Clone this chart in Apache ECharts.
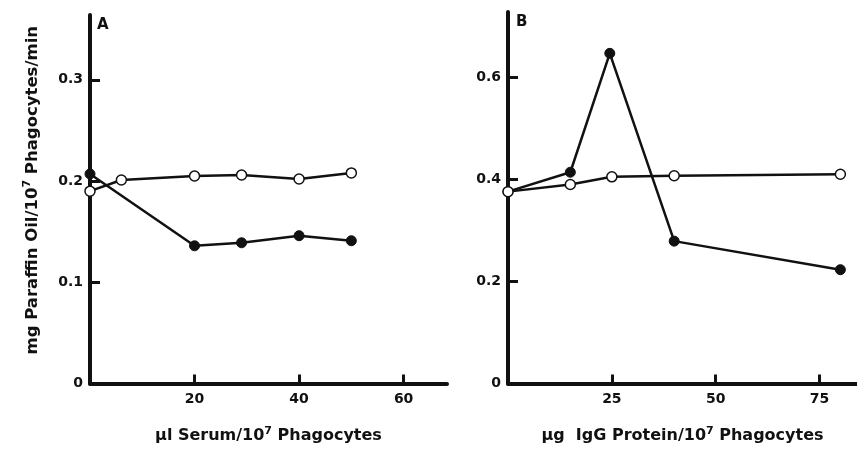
<!DOCTYPE html>
<html>
<head>
<meta charset="utf-8">
<script src="https://cdn.jsdelivr.net/npm/echarts@6/dist/echarts.min.js"></script>
<style>
  html, body { margin: 0; padding: 0; background: #fff; }
  #chart { width: 857px; height: 449px; }
</style>
</head>
<body>
<div id="chart"></div>
<script>
// Panel A: serum dose
const serumOpenX = [0, 6, 20, 29, 40, 50];
const serumOpenY = [0.190, 0.201, 0.205, 0.206, 0.202, 0.208];
const serumFilledX = [0, 20, 29, 40, 50];
const serumFilledY = [0.207, 0.136, 0.139, 0.146, 0.141];
const serumTicks = [20, 40, 60];
const serumRateTicks = [0, 0.1, 0.2, 0.3];

// Panel B: IgG dose
const iggOpenX = [0, 15, 25, 40, 80];
const iggOpenY = [0.376, 0.390, 0.405, 0.407, 0.410];
const iggFilledX = [0, 15, 24.5, 40, 80];
const iggFilledY = [0.376, 0.414, 0.647, 0.279, 0.223];
const iggTicks = [25, 50, 75];
const iggRateTicks = [0, 0.2, 0.4, 0.6];

const pairs = (xs, ys) => xs.map((x, i) => [x, ys[i]]);

const FONT = '"DejaVu Sans", "Liberation Sans", sans-serif';
const INK = '#111';

const richOf = (size) => ({
  t: { fontFamily: FONT, fontWeight: 'bold', fontSize: size, color: INK },
  sup: { fontFamily: FONT, fontWeight: 'bold', fontSize: 11, color: INK, padding: [0, 0, 10, 0] },
});

const xAxisOf = (gridIndex, max, ticks, name) => ({
  type: 'value',
  gridIndex,
  min: 0,
  max,
  name,
  nameLocation: 'middle',
  nameGap: 42,
  nameTextStyle: { rich: richOf(16) },
  axisLine: { lineStyle: { color: INK, width: 4 } },
  axisTick: { inside: true, length: 9, customValues: ticks, lineStyle: { color: INK, width: 3 } },
  axisLabel: {
    customValues: ticks,
    margin: 9,
    color: INK,
    fontFamily: FONT,
    fontWeight: 'bold',
    fontSize: 14,
  },
  splitLine: { show: false },
});

const yAxisOf = (gridIndex, max, ticks, name) => ({
  type: 'value',
  gridIndex,
  min: 0,
  max,
  name,
  nameLocation: 'middle',
  nameRotate: 90,
  nameGap: 47,
  nameTextStyle: { rich: richOf(16.5), padding: [0, 0, 0, 18] },
  axisLine: { lineStyle: { color: INK, width: 4 } },
  axisTick: { inside: true, length: 10, customValues: ticks.filter((v) => v > 0), lineStyle: { color: INK, width: 3 } },
  axisLabel: {
    customValues: ticks,
    margin: 7,
    color: INK,
    fontFamily: FONT,
    fontWeight: 'bold',
    fontSize: 14,
    formatter: (v) => (v === 0 ? '0' : v.toFixed(1)),
  },
  splitLine: { show: false },
});

const lineOf = (idx, data, filled) => ({
  type: 'line',
  xAxisIndex: idx,
  yAxisIndex: idx,
  data,
  clip: false,
  symbol: 'circle',
  symbolSize: 10,
  lineStyle: { color: INK, width: 2.5 },
  itemStyle: filled
    ? { color: INK, borderColor: INK, borderWidth: 1 }
    : { color: '#fff', borderColor: INK, borderWidth: 1.5 },
  z: filled ? 3 : 4,
});

const chart = echarts.init(document.getElementById('chart'));
chart.setOption({
  backgroundColor: '#fff',
  animation: false,
  grid: [
    { left: 90, top: 15, width: 357, height: 375 },
    { left: 508, top: 12, width: 349, height: 375 },
  ],
  xAxis: [
    xAxisOf(0, 68.3, serumTicks, '{t|\u00b5l Serum/10}{sup|7}{t| Phagocytes}'),
    xAxisOf(1, 84, iggTicks, '{t|\u00b5g  IgG Protein/10}{sup|7}{t| Phagocytes}'),
  ],
  yAxis: [
    yAxisOf(0, 0.364, serumRateTicks, '{t|mg Paraffin Oil/10}{sup|7}{t| Phagocytes/min}'),
    yAxisOf(1, 0.728, iggRateTicks, ''),
  ],
  graphic: [
    { type: 'text', left: 97, top: 18, style: { text: 'A', font: 'bold 15px ' + FONT, fill: INK } },
    { type: 'text', left: 516, top: 15, style: { text: 'B', font: 'bold 15px ' + FONT, fill: INK } },
  ],
  series: [
    lineOf(0, pairs(serumFilledX, serumFilledY), true),
    lineOf(0, pairs(serumOpenX, serumOpenY), false),
    lineOf(1, pairs(iggFilledX, iggFilledY), true),
    lineOf(1, pairs(iggOpenX, iggOpenY), false),
  ],
});
</script>
</body>
</html>
